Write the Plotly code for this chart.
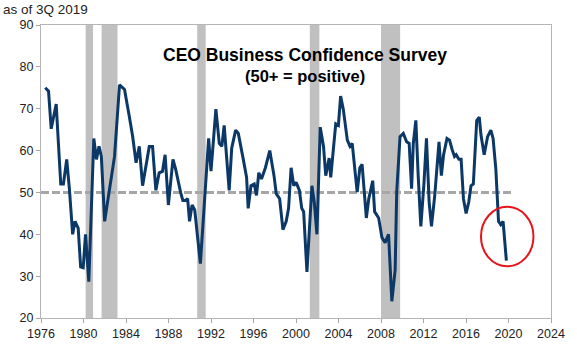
import plotly.graph_objects as go

# ---- data ----
years = [1976.40, 1976.71, 1976.96, 1977.18, 1977.43, 1977.64, 1977.86, 1978.11, 1978.42, 1978.67,
         1978.98, 1979.20, 1979.50, 1979.73, 1979.97, 1980.19, 1980.50, 1980.97, 1981.22, 1981.46,
         1981.68, 1981.99, 1982.61, 1982.92, 1983.39, 1983.86, 1984.32, 1984.63, 1984.95, 1985.25,
         1985.56, 1986.19, 1986.50, 1986.81, 1987.12, 1987.43, 1987.68, 1987.99, 1988.42, 1988.67,
         1989.14, 1989.35, 1989.60, 1989.80, 1989.98, 1990.22, 1990.47, 1991.00, 1991.78, 1992.00,
         1992.46, 1992.78, 1993.02, 1993.24, 1993.71, 1993.95, 1994.32, 1994.57, 1995.04, 1995.35,
         1995.50, 1995.76, 1996.07, 1996.28, 1996.50, 1996.75, 1997.12, 1997.53, 1997.93, 1998.14,
         1998.46, 1998.77, 1999.08, 1999.30, 1999.54, 1999.79, 2000.01, 2000.32, 2000.54, 2000.72,
         2001.03, 2001.35, 2001.50, 2001.72, 2001.97, 2002.28, 2002.59, 2002.80, 2003.12, 2003.27,
         2003.74, 2003.99, 2004.20, 2004.45, 2004.83, 2005.08, 2005.29, 2005.60, 2005.76, 2006.01,
         2006.22, 2006.62, 2006.85, 2007.22, 2007.40, 2007.78, 2008.09, 2008.39, 2008.71, 2009.02,
         2009.33, 2009.48, 2009.79, 2010.10, 2010.41, 2010.65, 2010.88, 2011.04, 2011.28, 2011.50,
         2011.75, 2012.03, 2012.28, 2012.53, 2012.75, 2013.06, 2013.46, 2013.68, 2013.89, 2014.21,
         2014.45, 2014.70, 2014.92, 2015.08, 2015.33, 2015.54, 2015.76, 2016.01, 2016.26, 2016.47,
         2016.69, 2017.01, 2017.25, 2017.41, 2017.71, 2018.03, 2018.34, 2018.55, 2018.81, 2019.06,
         2019.27, 2019.49, 2019.80]
confidence = [75.0, 74.2, 65.2, 68.3, 71.1, 61.7, 52.0, 52.0, 57.9, 50.9,
              40.0, 43.1, 41.5, 32.2, 32.0, 40.0, 28.7, 62.9, 57.9, 61.0,
              58.6, 43.1, 54.0, 58.6, 75.7, 74.6, 68.0, 63.3, 57.1, 61.0,
              51.6, 61.0, 61.0, 50.5, 54.7, 55.0, 59.0, 47.0, 57.9, 55.6,
              50.0, 48.1, 48.1, 48.5, 43.1, 47.0, 45.8, 33.0, 62.9, 55.1,
              69.9, 61.7, 61.0, 66.0, 50.5, 60.6, 64.9, 64.1, 57.9, 53.6,
              46.2, 51.6, 52.0, 49.3, 54.7, 53.2, 55.9, 60.0, 54.0, 49.7,
              48.5, 41.1, 43.1, 46.2, 55.9, 51.6, 52.4, 50.5, 46.2, 45.4,
              31.0, 44.6, 51.6, 47.7, 40.0, 65.6, 61.0, 54.0, 58.2, 53.6,
              66.4, 66.0, 73.0, 69.9, 62.5, 61.0, 61.7, 54.0, 50.1, 55.9,
              56.7, 43.9, 48.5, 52.8, 45.4, 43.9, 39.2, 38.0, 40.0, 24.0,
              31.4, 50.1, 63.3, 64.1, 62.1, 61.7, 50.9, 61.7, 67.2, 54.0,
              41.9, 51.6, 62.9, 47.7, 41.9, 49.3, 62.1, 54.0, 59.0, 62.9,
              62.5, 60.2, 58.6, 59.0, 57.9, 57.9, 48.5, 45.0, 47.7, 51.6,
              52.0, 67.2, 68.0, 63.7, 59.0, 63.3, 64.9, 62.9, 55.5, 43.1,
              42.3, 43.1, 33.7]

recession_start = [1980.2, 1981.7, 1990.7, 2001.3, 2008.0]
recession_end = [1980.9, 1983.2, 1991.5, 2002.2, 2009.8]

threshold = 50
threshold_span = [1976.0, 2020.5]

x_ticks = list(range(1976, 2025, 4))
y_ticks = list(range(20, 91, 10))

highlight_x = [2017.41, 2022.35]
highlight_y = [32.35, 46.57]

FONT = "Liberation Sans, Arial, sans-serif"

fig = go.Figure()

fig.add_trace(go.Scatter(
    x=threshold_span, y=[threshold, threshold], mode="lines",
    line=dict(color="#a6a6a6", width=3, dash="8px,3px"),
    hoverinfo="skip", showlegend=False))

fig.add_trace(go.Scatter(
    x=years, y=confidence, mode="lines",
    line=dict(color="#0b3866", width=3),
    showlegend=False))

shapes = []
for s, e in zip(recession_start, recession_end):
    shapes.append(dict(type="rect", xref="x", yref="paper", x0=s, x1=e, y0=0, y1=1,
                       fillcolor="#c0c0c0", line=dict(width=0), layer="below"))
shapes.append(dict(type="circle", xref="x", yref="y",
                   x0=highlight_x[0], x1=highlight_x[1], y0=highlight_y[0], y1=highlight_y[1],
                   line=dict(color="#e8141c", width=2)))

annotations = [
    dict(text="as of 3Q 2019", xref="paper", yref="paper", x=-0.077, y=1.083,
         xanchor="left", yanchor="top", showarrow=False, borderpad=0,
         font=dict(family=FONT, size=13.5, color="#222222")),
    dict(text="<b>CEO Business Confidence Survey</b>", xref="x", yref="y", x=2000.8, y=82.9,
         xanchor="center", yanchor="middle", showarrow=False,
         font=dict(family=FONT, size=17.5, color="#000000")),
    dict(text="<b>(50+ = positive)</b>", xref="x", yref="y", x=2000.8, y=77.8,
         xanchor="center", yanchor="middle", showarrow=False,
         font=dict(family=FONT, size=16.5, color="#000000")),
]

fig.update_layout(
    width=577, height=353,
    margin=dict(l=41, r=21, t=25, b=27, pad=0),
    paper_bgcolor="white", plot_bgcolor="white",
    shapes=shapes, annotations=annotations,
    font=dict(family=FONT, size=12.5, color="#222222"),
    xaxis=dict(range=[1976, 2024], tickvals=x_ticks, ticks="outside", ticklen=4,
               tickcolor="#a6a6a6", showline=True, linecolor="#b5b5b5", linewidth=1,
               mirror=True, showgrid=False, zeroline=False,
               tickfont=dict(family=FONT, size=12.5, color="#222222")),
    yaxis=dict(range=[20, 90], tickvals=y_ticks, ticks="outside", ticklen=4,
               tickcolor="#a6a6a6", showline=True, linecolor="#b5b5b5", linewidth=1,
               mirror=True, showgrid=False, zeroline=False,
               tickfont=dict(family=FONT, size=12.5, color="#222222")),
)

fig.write_html("out.html")
